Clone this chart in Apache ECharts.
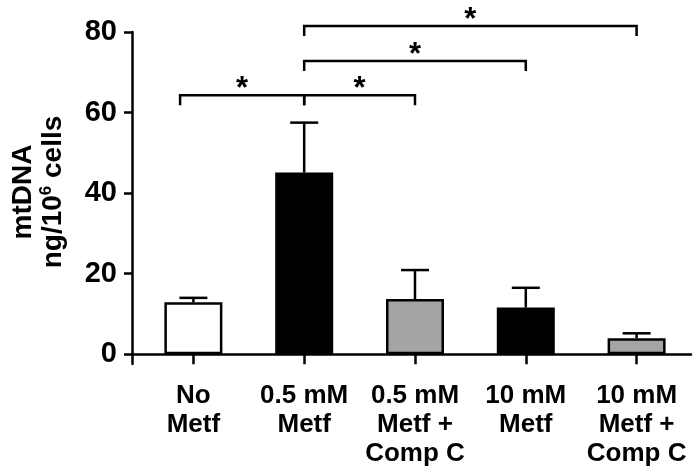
<!DOCTYPE html>
<html>
<head>
<meta charset="utf-8">
<script src="https://cdn.jsdelivr.net/npm/echarts@6/dist/echarts.min.js"></script>
<style>
  html, body { margin: 0; padding: 0; background: #fff; }
  #chart { width: 696px; height: 468px; }
</style>
</head>
<body>
<div id="chart"></div>
<script>
// ---- data ----
const categories = ['No\nMetf', '0.5 mM\nMetf', '0.5 mM\nMetf +\nComp C', '10 mM\nMetf', '10 mM\nMetf +\nComp C'];
const means = [12.9, 45.1, 13.7, 11.6, 4.0];
const errUpper = [14.0, 57.5, 20.9, 16.5, 5.2];
const yTicks = [0, 20, 40, 60, 80];
// significance brackets: [from category position, to category position, height]
const brackets = [[-0.12, 1, 64.3], [1, 2, 64.3], [1, 3, 72.8], [1, 4, 81.5]];
const sigMarks = ['*', '*', '*', '*'];

// ---- styles ----
const FONT = '"Liberation Sans", Arial, sans-serif';
const barFills = ['#ffffff', '#000000', '#a4a4a4', '#000000', '#a4a4a4'];
const LW = 2.5;

const chart = echarts.init(document.getElementById('chart'), null, { renderer: 'canvas' });

const catIdx = categories.map((c, i) => i);

const option = {
  animation: false,
  backgroundColor: '#fff',
  grid: { left: 126, right: 5, top: 32, bottom: 96, containLabel: false },
  xAxis: {
    type: 'value',
    min: -0.554,
    max: 4.491,
    splitLine: { show: false },
    axisLine: { onZero: true, lineStyle: { color: '#000', width: LW } },
    axisTick: { show: true, length: 10, customValues: catIdx, lineStyle: { color: '#000', width: LW } },
    axisLabel: {
      customValues: catIdx,
      formatter: v => categories[Math.round(v)],
      color: '#000', fontFamily: FONT, fontWeight: 'bold', fontSize: 26, lineHeight: 29,
      margin: 17, align: 'center'
    }
  },
  yAxis: {
    type: 'value',
    min: -2.42,
    max: 80,
    splitLine: { show: false },
    axisLine: { show: true, onZero: false, lineStyle: { color: '#000', width: LW } },
    axisTick: { show: true, length: 8, customValues: yTicks, lineStyle: { color: '#000', width: LW } },
    axisLabel: {
      customValues: yTicks,
      color: '#000', fontFamily: FONT, fontWeight: 'bold', fontSize: 29, margin: 15
    },
    name: '{a|mtDNA}\n{a|ng/10}{s|6}{a| cells}',
    nameLocation: 'middle',
    nameRotate: 90,
    nameGap: 64,
    nameTextStyle: {
      color: '#000', fontFamily: FONT, fontWeight: 'bold', fontSize: 28, lineHeight: 30,
      padding: [0, 0, 0, 12],
      rich: {
        a: { color: '#000', fontFamily: FONT, fontWeight: 'bold', fontSize: 28, lineHeight: 30 },
        s: { color: '#000', fontFamily: FONT, fontWeight: 'bold', fontSize: 17, lineHeight: 30, verticalAlign: 'top', padding: [0, 0, 10, 0] }
      }
    }
  },
  series: [
    {
      type: 'bar',
      barWidth: 58,
      data: means.map((m, i) => ({
        value: [i, m],
        itemStyle: { color: barFills[i], borderColor: '#000', borderWidth: LW }
      })),
      z: 2
    },
    {
      type: 'custom',
      z: 3,
      clip: false,
      data: means.map((m, i) => [i, m, errUpper[i]]),
      encode: { x: 0, y: [1, 2] },
      renderItem: function (params, api) {
        const x = api.value(0), m = api.value(1), u = api.value(2);
        const p0 = api.coord([x, m]);
        const p1 = api.coord([x, u]);
        const hw = 14;
        const st = { stroke: '#000', lineWidth: LW };
        return {
          type: 'group',
          children: [
            { type: 'line', shape: { x1: p0[0], y1: p0[1], x2: p1[0], y2: p1[1] }, style: st },
            { type: 'line', shape: { x1: p1[0] - hw, y1: p1[1], x2: p1[0] + hw, y2: p1[1] }, style: st }
          ]
        };
      }
    },
    {
      type: 'custom',
      z: 4,
      clip: false,
      data: brackets.map((b, i) => [b[0], b[1], b[2], i]),
      encode: { x: [0, 1], y: 2 },
      renderItem: function (params, api) {
        const x1 = api.value(0), x2 = api.value(1), lvl = api.value(2), k = api.value(3);
        const a = api.coord([x1, lvl]);
        const b = api.coord([x2, lvl]);
        const drop = 10;
        return {
          type: 'group',
          children: [
            {
              type: 'polyline',
              shape: { points: [[a[0], a[1] + drop], [a[0], a[1]], [b[0], b[1]], [b[0], b[1] + drop]] },
              style: { stroke: '#000', lineWidth: LW, fill: null, lineJoin: 'miter' }
            },
            {
              type: 'text',
              x: (a[0] + b[0]) / 2,
              y: a[1] - 6,
              style: {
                text: sigMarks[k], fill: '#000', font: 'bold 31px ' + FONT,
                align: 'center', verticalAlign: 'middle'
              }
            }
          ]
        };
      }
    }
  ]
};

chart.setOption(option);
</script>
</body>
</html>
